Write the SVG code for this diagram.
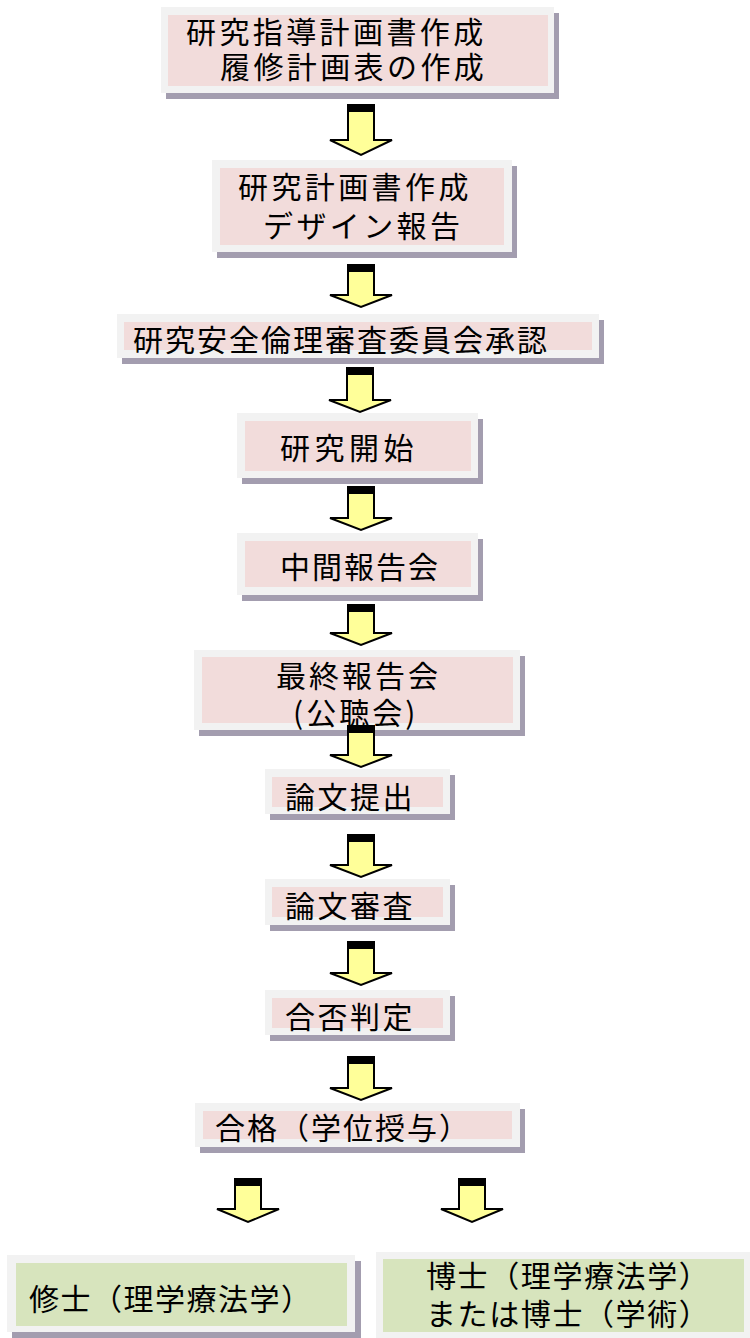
<svg xmlns="http://www.w3.org/2000/svg" width="750" height="1338" viewBox="0 0 750 1338">
<style>
.sh{fill:#a39daf}
.out{fill:#f2f2f2}
.pk{fill:#f2dcdb}
.gr{fill:#d7e4bd}
.t{font-family:"Noto Sans CJK JP","Noto Sans CJK SC",sans-serif;font-size:30px;fill:#000;letter-spacing:3.4px}
.arr{fill:#ffff99;stroke:#000;stroke-width:2;stroke-linejoin:miter}
.band{fill:#000}
</style>
<rect width="750" height="1338" fill="#fff"/>
<g id="n1">
<rect class="sh" x="166" y="13" width="393" height="86"/>
<rect class="out" x="161" y="7" width="393" height="86"/>
<rect class="pk" x="168" y="15" width="380" height="71"/>
<text class="t" x="186" y="43">研究指導計画書作成</text>
<text class="t" x="220" y="78">履修計画表の作成</text>
</g>
<g id="n2">
<rect class="sh" x="217" y="166" width="300" height="92"/>
<rect class="out" x="212" y="160" width="300" height="92"/>
<rect class="pk" x="220" y="168" width="284" height="77"/>
<text class="t" x="238" y="198">研究計画書作成</text>
<text class="t" x="263" y="237">デザイン報告</text>
</g>
<g id="n3">
<rect class="sh" x="122" y="320" width="482" height="44"/>
<rect class="out" x="117" y="314" width="482" height="44"/>
<rect class="pk" x="124" y="322" width="468" height="28"/>
<text class="t" x="133" y="351" style="letter-spacing:2px">研究安全倫理審査委員会承認</text>
</g>
<g id="n4">
<rect class="sh" x="242" y="419" width="241" height="65"/>
<rect class="out" x="237" y="413" width="241" height="65"/>
<rect class="pk" x="245" y="421" width="226" height="50"/>
<text class="t" x="280" y="459" style="letter-spacing:4.5px">研究開始</text>
</g>
<g id="n5">
<rect class="sh" x="242" y="539" width="241" height="62"/>
<rect class="out" x="237" y="533" width="241" height="62"/>
<rect class="pk" x="245" y="541" width="226" height="46"/>
<text class="t" x="280" y="578" style="letter-spacing:2px">中間報告会</text>
</g>
<g id="n6">
<rect class="sh" x="199" y="656" width="326" height="80"/>
<rect class="out" x="194" y="650" width="326" height="80"/>
<rect class="pk" x="202" y="657" width="311" height="66"/>
<text class="t" x="276" y="687" style="letter-spacing:3px">最終報告会</text>
<text class="t" x="293" y="724" style="letter-spacing:3px">(公聴会)</text>
</g>
<g id="n7">
<rect class="sh" x="270" y="775" width="185" height="45"/>
<rect class="out" x="265" y="769" width="185" height="45"/>
<rect class="pk" x="272" y="777" width="171" height="30"/>
<text class="t" x="285" y="808" style="letter-spacing:2.5px">論文提出</text>
</g>
<g id="n8">
<rect class="sh" x="270" y="885" width="185" height="46"/>
<rect class="out" x="265" y="879" width="185" height="46"/>
<rect class="pk" x="272" y="887" width="171" height="30"/>
<text class="t" x="285" y="917" style="letter-spacing:2.5px">論文審査</text>
</g>
<g id="n9">
<rect class="sh" x="270" y="996" width="185" height="45"/>
<rect class="out" x="265" y="990" width="185" height="45"/>
<rect class="pk" x="272" y="998" width="171" height="30"/>
<text class="t" x="285" y="1028" style="letter-spacing:2.5px">合否判定</text>
</g>
<g id="n10">
<rect class="sh" x="200" y="1109" width="325" height="44"/>
<rect class="out" x="195" y="1103" width="325" height="44"/>
<rect class="pk" x="203" y="1111" width="309" height="28"/>
<text class="t" x="215" y="1139" style="letter-spacing:2px">合格（学位授与）</text>
</g>
<g id="n11">
<rect class="sh" x="12" y="1261" width="349" height="77"/>
<rect class="out" x="7" y="1255" width="348" height="77"/>
<rect class="gr" x="16" y="1263" width="331" height="63"/>
<text class="t" x="29" y="1310" style="letter-spacing:1.5px">修士（理学療法学）</text>
</g>
<g id="n12">
<rect class="out" x="376" y="1252" width="374" height="86"/>
<rect class="gr" x="383" y="1259" width="361" height="73"/>
<text class="t" x="426" y="1287" style="letter-spacing:1.6px">博士（理学療法学）</text>
<text class="t" x="426" y="1325" style="letter-spacing:1.6px">または博士（学術）</text>
</g>
<g id="connectors">
<path class="arr" d="M348 105H374V140H392L361 155L330 140H348Z"/><rect class="band" x="348" y="105" width="26" height="7"/>
<path class="arr" d="M348 265H374V295H392L361 307L330 295H348Z"/><rect class="band" x="348" y="265" width="26" height="7"/>
<path class="arr" d="M347 368H373V400H391L360 412L329 400H347Z"/><rect class="band" x="347" y="368" width="26" height="7"/>
<path class="arr" d="M348 487H374V518H392L361 530L330 518H348Z"/><rect class="band" x="348" y="487" width="26" height="7"/>
<path class="arr" d="M348 605H374V633H392L361 645L330 633H348Z"/><rect class="band" x="348" y="605" width="26" height="7"/>
<path class="arr" d="M348 726H374V755H392L361 767L330 755H348Z"/><rect class="band" x="348" y="726" width="26" height="7"/>
<path class="arr" d="M348 835H374V865H392L361 877L330 865H348Z"/><rect class="band" x="348" y="835" width="26" height="7"/>
<path class="arr" d="M348 942H374V973H392L361 985L330 973H348Z"/><rect class="band" x="348" y="942" width="26" height="7"/>
<path class="arr" d="M348 1057H374V1088H392L361 1100L330 1088H348Z"/><rect class="band" x="348" y="1057" width="26" height="7"/>
<path class="arr" d="M235 1179H261V1209H279L248 1222L217 1209H235Z"/><rect class="band" x="235" y="1179" width="26" height="7"/>
<path class="arr" d="M459 1179H485V1209H503L472 1222L441 1209H459Z"/><rect class="band" x="459" y="1179" width="26" height="7"/>
</g>
</svg>
